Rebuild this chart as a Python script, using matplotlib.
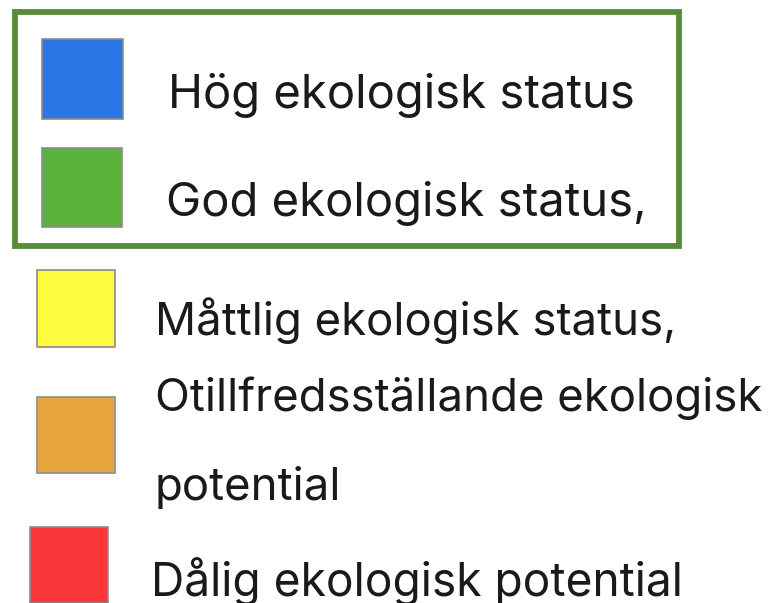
import matplotlib
matplotlib.use("Agg")
import matplotlib.pyplot as plt
from matplotlib.patches import Rectangle

# ---- data ----
labels = [
    "Hög ekologisk status",
    "God ekologisk status,",
    "Måttlig ekologisk status,",
    "Otillfredsställande ekologisk\npotential",
    "Dålig ekologisk potential",
]
colors = ["#2b77e6", "#5bb33b", "#fdfc3f", "#e8a63e", "#f93639"]

# ---- layout (pixels, origin top-left) ----
sq_x = [42, 42, 37, 37, 30]
sq_y = [39, 148, 270, 397, 527]
sq_w = [81, 80, 78, 78, 78]
sq_h = [80, 79, 77, 76, 76]
txt_x = [168, 166, 155, 155, 151]
txt_base = [108, 216, 335, 411, 596]
font_sizes = [34, 34, 32.8, 32.8, 33.2]
line_gap = 89

W, H = 769, 603
fig = plt.figure(figsize=(W / 100, H / 100), dpi=100)
ax = fig.add_axes([0, 0, 1, 1])
ax.set_xlim(0, W)
ax.set_ylim(H, 0)
ax.axis("off")

fam = ["Inter", "DejaVu Sans"]

for i, (lab, col) in enumerate(zip(labels, colors)):
    ax.add_patch(Rectangle((sq_x[i], sq_y[i]), sq_w[i], sq_h[i],
                           facecolor=col, edgecolor="#8c8c8c", linewidth=1.2))
    lines = lab.split("\n")
    for j, ln in enumerate(lines):
        ax.text(txt_x[i], txt_base[i] + j * line_gap, ln, fontsize=font_sizes[i],
                family=fam, weight="normal", color="#1a1a1a", va="baseline", ha="left")

# green frame around first two items
ax.add_patch(Rectangle((15, 12), 664, 234, facecolor="none",
                       edgecolor="#5a8b3b", linewidth=4.2))

fig.savefig("out.png", dpi=100)
